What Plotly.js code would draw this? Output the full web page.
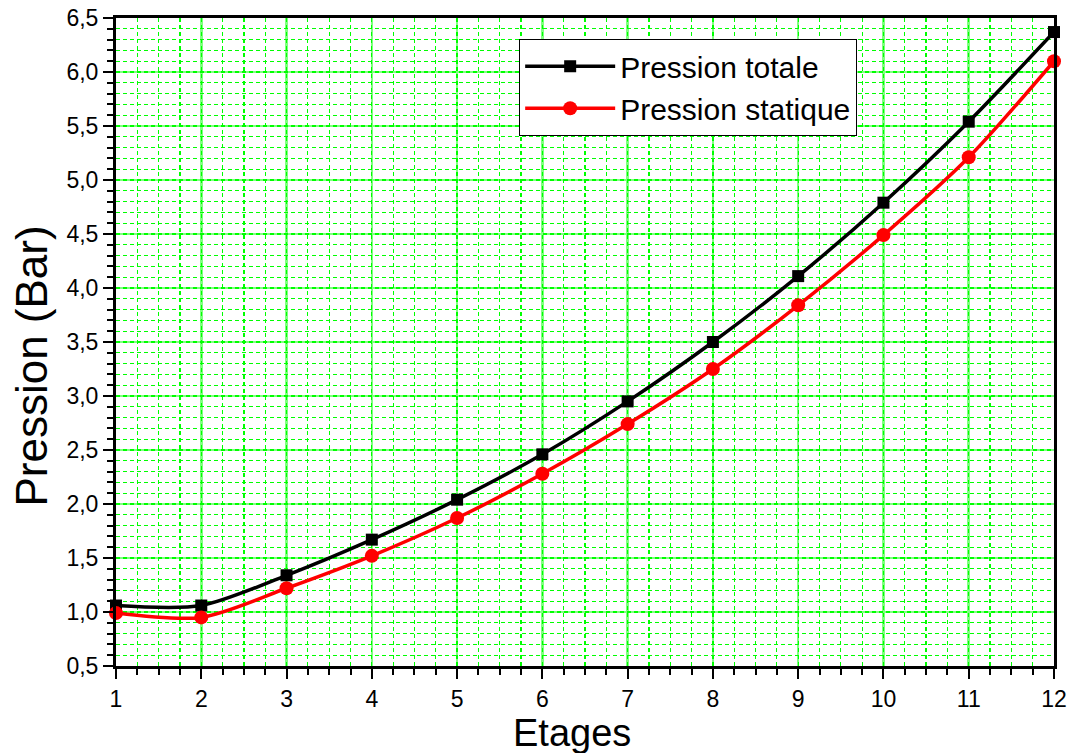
<!DOCTYPE html>
<html>
<head>
<meta charset="utf-8">
<script src="https://cdn.plot.ly/plotly-3.0.1.min.js"></script>
<style>html,body{margin:0;padding:0;background:#fff;}#chart{width:1071px;height:753px;}</style>
</head>
<body>
<div id="chart"></div>
<script>
const etages = [1, 2, 3, 4, 5, 6, 7, 8, 9, 10, 11, 12];
const pressionTotale = [1.06, 1.06, 1.34, 1.67, 2.04, 2.46, 2.95, 3.50, 4.11, 4.79, 5.54, 6.37];
const pressionStatique = [0.99, 0.95, 1.22, 1.52, 1.87, 2.28, 2.74, 3.25, 3.84, 4.49, 5.21, 6.10];
const seriesNames = ["Pression totale", "Pression statique"];
const xTitle = "Etages";
const yTitle = "Pression (Bar)";

const traces = [
  // invisible trace to activate minor-grid overlay axes
  {x: [etages[0]], y: [pressionStatique[0]], xaxis: 'x2', yaxis: 'y2', mode: 'markers',
   marker: {opacity: 0}, showlegend: false, hoverinfo: 'skip'},
  {x: etages, y: pressionTotale, name: seriesNames[0], type: 'scatter', mode: 'lines+markers',
   line: {color: '#000000', width: 3.5, shape: 'spline', smoothing: 0.8},
   marker: {symbol: 'square', size: 12, color: '#000000'}, cliponaxis: false},
  {x: etages, y: pressionStatique, name: seriesNames[1], type: 'scatter', mode: 'lines+markers',
   line: {color: '#ff0000', width: 3.5, shape: 'spline', smoothing: 0.8},
   marker: {symbol: 'circle', size: 14, color: '#ff0000'}, cliponaxis: false}
];

const fontFam = 'Liberation Sans, Arial, sans-serif';
const gridMinor = {showgrid: true, gridcolor: '#00ff00', gridwidth: 1.2, griddash: '4px,3px',
  ticks: 'outside', ticklen: 8, tickwidth: 2, tickcolor: '#000',
  showticklabels: false, zeroline: false, showline: false};
const layout = {
  width: 1071, height: 753,
  margin: {l: 116, r: 17, t: 18, b: 87},
  paper_bgcolor: '#ffffff', plot_bgcolor: '#ffffff',
  separators: ', ',
  showlegend: true,
  legend: {x: 0.4296, y: 0.9676, xanchor: 'left', yanchor: 'top',
    bgcolor: '#ffffff', bordercolor: '#000000', borderwidth: 1.2,
    font: {family: fontFam, size: 30, color: '#000'}, itemwidth: 90, tracegroupgap: 0},
  xaxis2: Object.assign({overlaying: 'x', side: 'bottom', range: [1, 12], tickmode: 'linear', tick0: 1, dtick: 0.25}, gridMinor),
  yaxis2: Object.assign({overlaying: 'y', side: 'left', range: [0.5, 6.5], tickmode: 'linear', tick0: 0.5, dtick: 0.1}, gridMinor),
  xaxis: {
    range: [1, 12], tickmode: 'linear', tick0: 1, dtick: 1,
    showline: true, linecolor: '#000', linewidth: 3, mirror: true,
    ticks: 'outside', ticklen: 10, tickwidth: 2, tickcolor: '#000',
    showgrid: true, gridcolor: '#80ff80', gridwidth: 2.5,
    zeroline: false,
    tickfont: {family: fontFam, size: 23, color: '#000'}
  },
  yaxis: {
    range: [0.5, 6.5], tickmode: 'linear', tick0: 0.5, dtick: 0.5, tickformat: '.1f',
    showline: true, linecolor: '#000', linewidth: 3, mirror: true,
    ticks: 'outside', ticklen: 10, tickwidth: 2, tickcolor: '#000',
    showgrid: true, gridcolor: '#80ff80', gridwidth: 2.5,
    zeroline: false,
    tickfont: {family: fontFam, size: 23, color: '#000'}
  },
  annotations: [
    {text: xTitle, xref: 'paper', yref: 'paper', x: 0.486, y: -0.104, xanchor: 'center', yanchor: 'middle',
     borderpad: 0, showarrow: false, font: {family: fontFam, size: 38, color: '#000'}},
    {text: yTitle, xref: 'paper', yref: 'paper', x: -0.09, y: 0.463, xanchor: 'center', yanchor: 'middle',
     textangle: -90, showarrow: false, font: {family: fontFam, size: 44, color: '#000'}}
  ]
};

Plotly.newPlot('chart', traces, layout, {displayModeBar: false, staticPlot: true});
</script>
</body>
</html>
